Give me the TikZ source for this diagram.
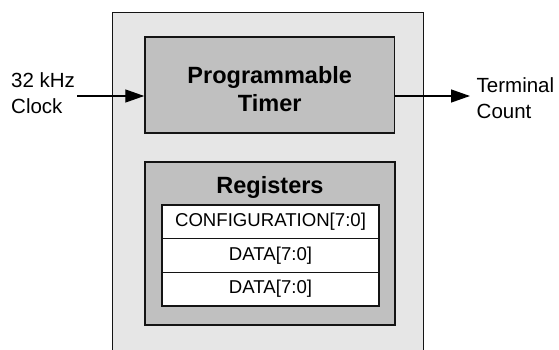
\documentclass[tikz,border=0pt]{standalone}
\usepackage{fontspec}
\setmainfont{Liberation Sans}
\usetikzlibrary{arrows.meta}
\definecolor{outerfill}{HTML}{E6E6E6}
\definecolor{innerfill}{HTML}{C0C0C0}
\definecolor{edge}{HTML}{141414}
\tikzset{
  outerbox/.style={draw=edge, line width=1pt, fill=outerfill, inner sep=0pt},
  blockbox/.style={draw=edge, line width=1.5pt, fill=innerfill, inner sep=0pt},
  regrow/.style={draw=edge, line width=1.6pt, fill=white, inner sep=0pt,
    minimum width=217pt, minimum height=33.67pt,
    font=\fontsize{18.6}{22}\selectfont},
  titletxt/.style={inner sep=0pt, align=center, font=\fontsize{23.5}{28}\selectfont\bfseries},
  sigtxt/.style={inner sep=0pt, align=left, font=\fontsize{20.5}{26}\selectfont},
  sig/.style={draw=black, line width=1.3pt, -{Triangle[length=19pt,width=13pt]}}
}
\begin{document}
\begin{tikzpicture}[x=1pt,y=-1pt]
\useasboundingbox (0,0) rectangle (559,350);
% outer chip box (bottom edge beyond the page)
\node[outerbox, minimum width=311pt, minimum height=360pt, anchor=north west] (chip) at (112,12) {};
% programmable timer
\node[blockbox, minimum width=249.5pt, minimum height=96pt] (timer) at (269.75,85) {};
\node[titletxt] (timertxt) at (269.75,88.8) {Programmable\\Timer};
% registers
\node[blockbox, minimum width=250pt, minimum height=163pt] (regs) at (270,243.5) {};
\node[titletxt, anchor=base] (regstxt) at (270,193) {Registers};
\node[regrow] (r1) at (270.5,221.83) {CONFIGURATION[7:0]};
\node[regrow] (r2) at (270.5,255.5) {DATA[7:0]};
\node[regrow] (r3) at (270.5,289.17) {DATA[7:0]};
% signals
\node[sigtxt, anchor=west] (clk) at (11,93.5) {32 kHz\\Clock};
\node[sigtxt, anchor=west] (tc) at (476.5,98) {Terminal\\Count};
\coordinate (clkin) at (77,96);
\coordinate (tcout) at (470,96);
\draw[sig] (clkin) -- (timer.west |- clkin);
\draw[sig] (timer.east |- tcout) -- (tcout);
\end{tikzpicture}
\end{document}
